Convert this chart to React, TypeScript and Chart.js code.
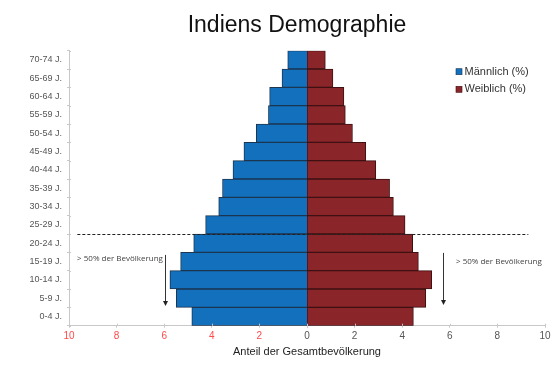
import React, { useEffect, useRef } from "react";
import { Chart, registerables } from "chart.js";

Chart.register(...registerables);

const TITLE = "Indiens Demographie";
const AGE_GROUPS = [
  "70-74 J.", "65-69 J.", "60-64 J.", "55-59 J.", "50-54 J.", "45-49 J.", "40-44 J.", "35-39 J.",
  "30-34 J.", "25-29 J.", "20-24 J.", "15-19 J.", "10-14 J.", "5-9 J.", "0-4 J.",
];
const MALE = [0.81, 1.05, 1.57, 1.62, 2.13, 2.65, 3.11, 3.55, 3.71, 4.26, 4.76, 5.31, 5.76, 5.49, 4.84];
const FEMALE = [0.77, 1.09, 1.55, 1.61, 1.91, 2.47, 2.89, 3.47, 3.63, 4.12, 4.44, 4.68, 5.24, 4.99, 4.47];
const SERIES_LABELS = ["Männlich (%)", "Weiblich (%)"];
const X_MIN = -10;
const X_MAX = 10;
const X_STEP = 2;
const X_TITLE = "Anteil der Gesamtbevölkerung";
const NOTE_TEXT = "> 50% der Bevölkerung";
// threshold between "25-29 J." and "20-24 J."
const THRESHOLD_AFTER = "25-29 J.";

const BLUE = "#1270bd";
const BLUE_BORDER = "#1c3550";
const RED = "#8a2529";
const RED_BORDER = "#3e1012";
const AXIS_COLOR = "#c8c8c8";
const FONT = "'Liberation Sans', Arial, sans-serif";
const NOTE_FONT = "'Open Sans', 'Lato', sans-serif";

const overlayPlugin = {
  id: "overlay",
  afterDatasetsDraw(chart: any) {
    const { ctx } = chart;
    const x = chart.scales.x;
    const y = chart.scales.y;
    const idx = AGE_GROUPS.indexOf(THRESHOLD_AFTER);
    ctx.save();
    // dashed threshold line
    const yLine = Math.round(y.getPixelForValue(idx + 0.5)) + 0.5;
    ctx.setLineDash([3, 2]);
    ctx.strokeStyle = "#222";
    ctx.lineWidth = 1;
    ctx.beginPath();
    ctx.moveTo(x.getPixelForValue(-9.65), yLine);
    ctx.lineTo(x.getPixelForValue(9.3), yLine);
    ctx.stroke();
    ctx.setLineDash([]);

    // arrows
    const arrow = (xv: number, y0: number, y1: number) => {
      const px = Math.round(x.getPixelForValue(xv)) + 0.5;
      const py0 = y.getPixelForValue(y0);
      const py1 = y.getPixelForValue(y1);
      ctx.strokeStyle = "#333";
      ctx.fillStyle = "#222";
      ctx.lineWidth = 1;
      ctx.beginPath();
      ctx.moveTo(px, py0);
      ctx.lineTo(px, py1 - 4);
      ctx.stroke();
      ctx.beginPath();
      ctx.moveTo(px - 2.5, py1 - 5);
      ctx.lineTo(px + 2.5, py1 - 5);
      ctx.lineTo(px, py1);
      ctx.closePath();
      ctx.fill();
    };
    arrow(-5.95, 10.64, 13.43);
    arrow(5.7, 10.53, 13.37);

    // notes
    ctx.fillStyle = "#444";
    ctx.font = `8px ${NOTE_FONT}`;
    ctx.textAlign = "left";
    ctx.textBaseline = "middle";
    ctx.fillText(NOTE_TEXT, x.getPixelForValue(-9.66), y.getPixelForValue(10.86));
    ctx.fillText(NOTE_TEXT, x.getPixelForValue(6.26), y.getPixelForValue(11.0));
    ctx.restore();
  },
  afterDraw(chart: any) {
    const { ctx, chartArea } = chart;
    const x = chart.scales.x;
    const y = chart.scales.y;
    ctx.save();
    // inward halves of the axis tick marks (ticks cross the axis lines)
    ctx.strokeStyle = AXIS_COLOR;
    ctx.lineWidth = 1;
    ctx.beginPath();
    for (let i = 0; i <= AGE_GROUPS.length; i++) {
      const py = Math.round(y.getPixelForValue(i - 0.5)) + 0.5;
      ctx.moveTo(chartArea.left, py);
      ctx.lineTo(chartArea.left + 2, py);
    }
    for (let v = X_MIN; v <= X_MAX; v += X_STEP) {
      const px = Math.round(x.getPixelForValue(v)) + 0.5;
      ctx.moveTo(px, chartArea.bottom + (v === 0 ? 2.5 : 0));
      ctx.lineTo(px, chartArea.bottom - 2);
    }
    ctx.stroke();
    // title
    ctx.fillStyle = "#111";
    ctx.font = `23px ${FONT}`;
    ctx.textAlign = "center";
    ctx.textBaseline = "alphabetic";
    ctx.fillText(TITLE, 297, 31.5);
    // legend
    const colors = [[BLUE, BLUE_BORDER], [RED, RED_BORDER]];
    ctx.font = `11px ${FONT}`;
    ctx.textAlign = "left";
    ctx.textBaseline = "middle";
    SERIES_LABELS.forEach((lbl, i) => {
      const cy = 71.7 + i * 17.6;
      ctx.fillStyle = colors[i][0];
      ctx.fillRect(456, cy - 3, 6, 6);
      ctx.strokeStyle = colors[i][1];
      ctx.lineWidth = 0.6;
      ctx.strokeRect(456, cy - 3, 6, 6);
      ctx.fillStyle = "#333";
      ctx.fillText(lbl, 464.5, cy);
    });
    ctx.restore();
  },
};

export default function App() {
  const ref = useRef<HTMLCanvasElement | null>(null);
  useEffect(() => {
    document.body.style.margin = "0";
    const canvas = ref.current;
    if (!canvas) return;
    const chart = new Chart(canvas, {
      type: "bar",
      data: {
        labels: AGE_GROUPS,
        datasets: [
          {
            label: SERIES_LABELS[0],
            data: MALE.map((v) => -v),
            backgroundColor: BLUE,
            borderColor: BLUE_BORDER,
            borderWidth: 1,
            barPercentage: 1,
            categoryPercentage: 1,
          },
          {
            label: SERIES_LABELS[1],
            data: FEMALE,
            backgroundColor: RED,
            borderColor: RED_BORDER,
            borderWidth: 1,
            borderSkipped: false,
            barPercentage: 1,
            categoryPercentage: 1,
          },
        ],
      },
      options: {
        indexAxis: "y",
        responsive: false,
        animation: false,
        layout: { padding: { top: 50.7, right: 15, bottom: 0, left: 0 } },
        plugins: {
          legend: { display: false },
          title: { display: false },
          tooltip: { enabled: false },
        },
        scales: {
          x: {
            type: "linear",
            min: X_MIN,
            max: X_MAX,
            stacked: true,
            ticks: {
              stepSize: X_STEP,
              padding: 3,
              font: { family: FONT, size: 10 },
              color: (c: any) => (c.tick && c.tick.value < 0 ? "#ff4a4a" : "#555"),
              callback: (v: any) => String(Math.abs(Number(v))),
            },
            grid: {
              drawOnChartArea: false,
              tickLength: 2,
              color: AXIS_COLOR,
              lineWidth: (c: any) => (c.tick && c.tick.value === 0 ? 0 : 1),
            },
            border: { color: AXIS_COLOR },
            title: {
              display: true,
              text: X_TITLE,
              color: "#222",
              font: { family: FONT, size: 11 },
              padding: { top: 2, bottom: 23.4 },
            },
            afterFit: (s: any) => {
              s.height = 382 - 325.7;
            },
          },
          y: {
            type: "category",
            stacked: true,
            ticks: {
              padding: 5,
              font: { family: FONT, size: 9 },
              color: "#555",
            },
            grid: { drawOnChartArea: false, tickLength: 2, color: AXIS_COLOR, offset: true },
            border: { color: AXIS_COLOR },
            afterFit: (s: any) => {
              s.width = 69;
            },
          },
        },
      },
      plugins: [overlayPlugin],
    } as any);
    return () => chart.destroy();
  }, []);
  return <canvas ref={ref} width={560} height={382} style={{ display: "block" }} />;
}
